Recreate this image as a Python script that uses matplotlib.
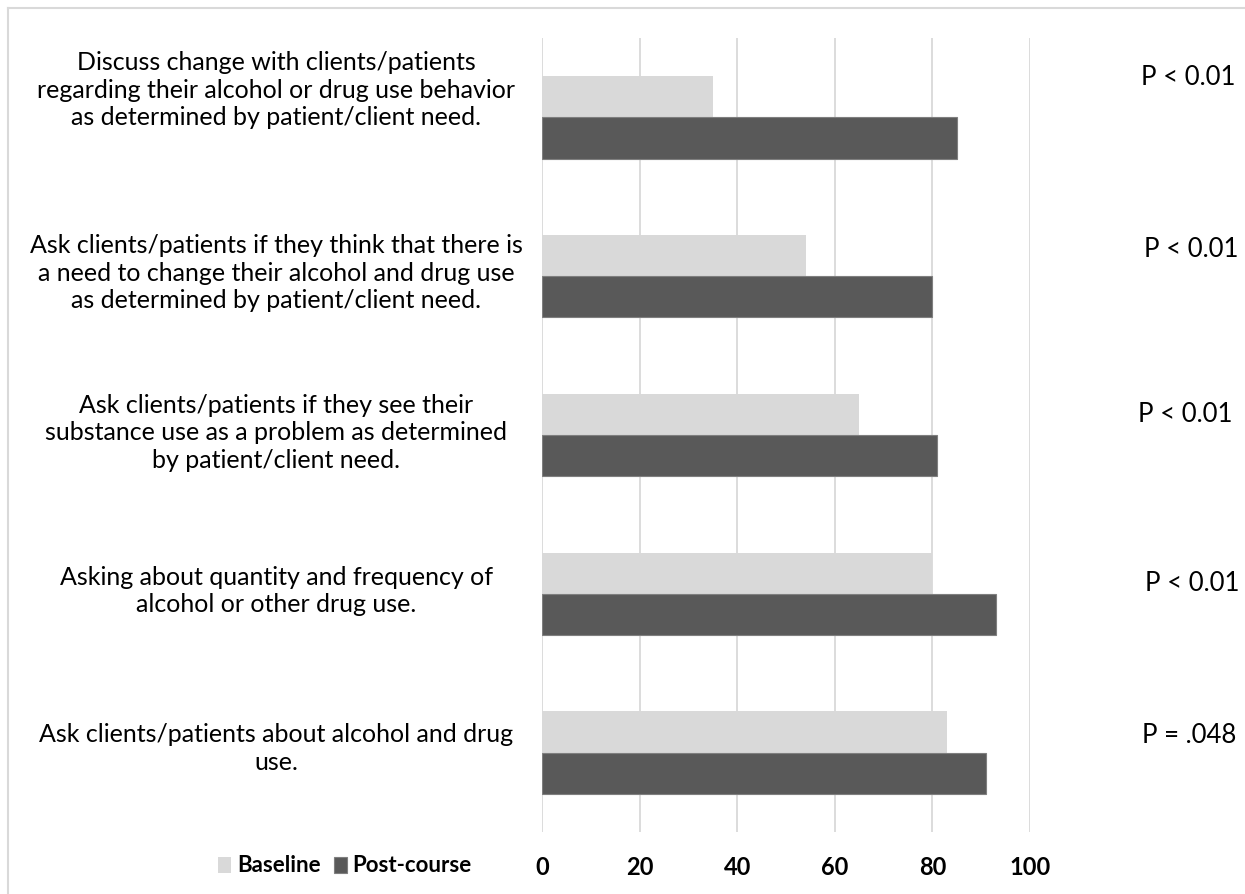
import numpy as np
import matplotlib
matplotlib.use("Agg")
import matplotlib.pyplot as plt
from matplotlib.lines import Line2D
from matplotlib.transforms import blended_transform_factory, ScaledTranslation

plt.rcParams['font.family'] = ['Lato', 'DejaVu Sans']

# categories top to bottom
categories = [
    "Discuss change with clients/patients\nregarding their alcohol or drug use behavior\nas determined by patient/client need.",
    "Ask clients/patients if they think that there is\na need to change their alcohol and drug use\nas determined by patient/client need.",
    "Ask clients/patients if they see their\nsubstance use as a problem as determined\nby patient/client need.",
    "Asking about quantity and frequency of\nalcohol or other drug use.",
    "Ask clients/patients about alcohol and drug\nuse.",
]
baseline = [35, 54, 65, 80, 83]
post_course = [85, 80, 81, 93, 91]
p_values = ["P < 0.01", "P < 0.01", "P < 0.01", "P < 0.01", "P = .048"]
xticks = [0, 20, 40, 60, 80, 100]

# layout offsets (pixels, upward) of the label boxes relative to each category
label_shift = [27, 3, 2, 3, 4]
p_shift = [40, 27, 21, 10, 17]
p_xshift = [0, 3, -3, 4, 1]

W, H = 1245, 894
fig = plt.figure(figsize=(W / 100, H / 100), dpi=100)
ax = fig.add_axes([542 / W, 62 / H, 488 / W, 794 / H])

y = np.arange(len(categories))
bh = 0.26
ax.barh(y - bh / 2, baseline, height=bh, color="#D9D9D9", label="Baseline", zorder=2)
ax.barh(y + bh / 2, post_course, height=bh, color="#595959", edgecolor="#7F7F7F",
        linewidth=0.8, label="Post-course", zorder=2)

ax.set_xlim(0, 100)
ax.set_ylim(len(categories) - 0.5, -0.5)
ax.set_xticks(xticks)
ax.set_xticklabels([str(t) for t in xticks], fontsize=17, fontweight="bold")
ax.tick_params(axis="x", length=0, pad=17)
ax.set_yticks([])
ax.grid(axis="x", color="#D9D9D9", linewidth=1.3, zorder=0)
for s in ax.spines.values():
    s.set_visible(False)

trans_lab = blended_transform_factory(fig.transFigure, ax.transData)
for i, lab in enumerate(categories):
    t = ScaledTranslation(0, label_shift[i] / 100, fig.dpi_scale_trans)
    ax.text(276 / W, i, lab, transform=trans_lab + t, ha="center", va="center",
            fontsize=18, linespacing=1.24, color="#000000")

for i, p in enumerate(p_values):
    t = ScaledTranslation(p_xshift[i] / 100, p_shift[i] / 100, fig.dpi_scale_trans)
    ax.text(1188 / W, i, p, transform=trans_lab + t, ha="center", va="center",
            fontsize=18.5, color="#000000")

fig.legend(loc="center left", bbox_to_anchor=(218 / W, 1 - 866 / H), ncol=2,
           frameon=False, borderpad=0, borderaxespad=0, handlelength=0.6,
           handleheight=0.75, handletextpad=0.25, columnspacing=0.6,
           prop={"weight": "bold", "size": 16})

# chart area border (left and top edges visible)
fig.add_artist(Line2D([8 / W, 8 / W], [0, 1 - 8 / H], transform=fig.transFigure,
                      color="#D9D9D9", linewidth=1.5))
fig.add_artist(Line2D([8 / W, 1], [1 - 8 / H, 1 - 8 / H], transform=fig.transFigure,
                      color="#D9D9D9", linewidth=1.5))

fig.savefig("out.png", dpi=100)
